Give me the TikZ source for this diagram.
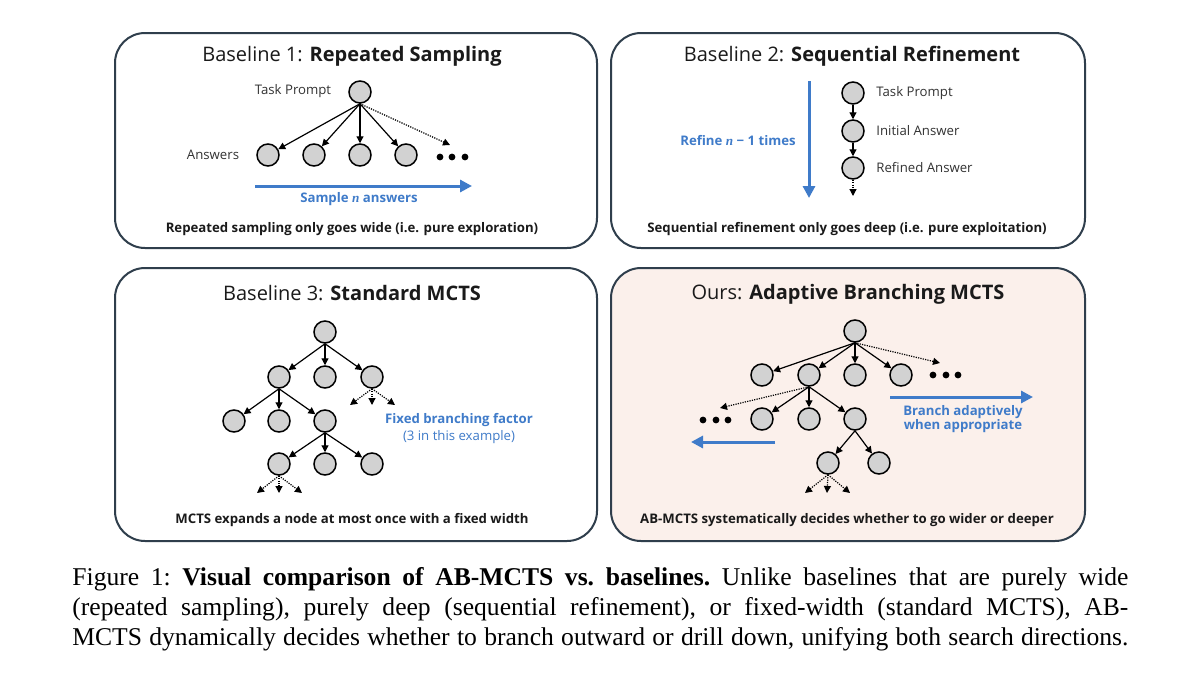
\documentclass[tikz,border=0pt]{standalone}
\usepackage{fontspec}
\setmainfont{Liberation Serif}
\newfontfamily\gf{Open Sans}
\newfontfamily\nf{Liberation Serif}
\usetikzlibrary{arrows.meta}
\definecolor{boxc}{HTML}{2F3E4C}
\definecolor{blueC}{HTML}{3F7BC9}
\definecolor{nodeg}{HTML}{D2D2D2}
\definecolor{pinkbg}{HTML}{FBF0EB}
\definecolor{txt}{HTML}{1A1A1A}
\definecolor{lblc}{HTML}{333333}
\newcommand{\nn}[1]{{\nf\bfseries\itshape #1}}
\tikzset{
  panel/.style={draw=boxc, line width=1pt, rounded corners=15pt},
  nd/.style={circle, draw=black, fill=nodeg, line width=0.75pt, minimum size=11pt, inner sep=0pt},
  dotn/.style={circle, fill=black, minimum size=3.4pt, inner sep=0pt},
  ar/.style={-{Triangle[length=3.5pt,width=3.5pt]}, line width=0.6pt, draw=black},
  dar/.style={ar, dash pattern=on 0.6pt off 0.6pt},
  barrow/.style={-{Triangle[length=6pt,width=6pt]}, line width=1.5pt, draw=blueC},
  ttl/.style={font=\gf\fontsize{10}{12}\selectfont, text=txt, inner sep=0pt},
  lbl/.style={font=\gf\fontsize{6.6}{8}\selectfont, text=lblc, inner sep=0pt},
  bot/.style={font=\gf\bfseries\fontsize{6.6}{8}\selectfont, text=txt, inner sep=0pt},
  blab/.style={font=\gf\bfseries\fontsize{6.6}{8}\selectfont, text=blueC, inner sep=0pt, align=center},
  blabr/.style={font=\gf\fontsize{6.6}{8}\selectfont, text=blueC, inner sep=0pt},
  capl/.style={font=\fontsize{12.8}{15}\selectfont\frenchspacing, text=black, inner sep=0pt, anchor=base west}
}
\begin{document}
\begin{tikzpicture}[x=0.5pt,y=-0.5pt]
\useasboundingbox (0,0) rectangle (1200,686);
\fill[white] (0,0) rectangle (1200,686);

% ---------- Panel 1 ----------
\draw[panel] (115,33) rectangle (597,248);
\node[ttl] (t1) at (352,56) {Baseline 1: \textbf{Repeated Sampling}};
\node[nd] (r1) at (360,92) {};
\node[nd] (a1) at (268,155) {};
\node[nd] (a2) at (314,155) {};
\node[nd] (a3) at (360,155) {};
\node[nd] (a4) at (406,155) {};
\node[lbl] (tp1) at (293,91) {Task Prompt};
\node[lbl] (ans1) at (213,155) {Answers};
\node[dotn] (d11) at (440,157) {};
\node[dotn] (d12) at (452,157) {};
\node[dotn] (d13) at (465,157) {};
\coordinate (e1) at (450,145);
\foreach \c in {a1,a2,a3,a4} \draw[ar] (r1.south) -- (\c);
\draw[dar] (r1.south) -- (e1);
\coordinate (b1s) at (255,186);
\coordinate (b1e) at (472,186);
\draw[barrow] (b1s) -- (b1e);
\node[blab] (s1) at (359,199) {Sample \nn{n} answers};
\node[bot] (bt1) at (352,229) {Repeated sampling only goes wide (i.e. pure exploration)};

% ---------- Panel 2 ----------
\draw[panel] (611,33) rectangle (1085,248);
\node[ttl] (t2) at (852,56) {Baseline 2: \textbf{Sequential Refinement}};
\node[nd] (c1) at (853,93) {};
\node[nd] (c2) at (853,131) {};
\node[nd] (c3) at (853,168) {};
\node[lbl, anchor=west] (l21) at (876,93) {Task Prompt};
\node[lbl, anchor=west] (l22) at (876,131) {Initial Answer};
\node[lbl, anchor=west] (l23) at (876,168) {Refined Answer};
\draw[ar] (c1) -- (c2);
\draw[ar] (c2) -- (c3);
\coordinate (e2) at (853,196);
\draw[dar] (c3) -- (e2);
\coordinate (b2s) at (809,81);
\coordinate (b2e) at (809,198);
\draw[barrow] (b2s) -- (b2e);
\node[blab] (s2) at (738,141) {Refine \nn{n} − 1 times};
\node[bot] (bt2) at (847,229) {Sequential refinement only goes deep (i.e. pure exploitation)};

% ---------- Panel 3 ----------
\draw[panel] (115,268) rectangle (597,541);
\node[ttl] (t3) at (352,293) {Baseline 3: \textbf{Standard MCTS}};
\node[nd] (m0) at (325,332) {};
\node[nd] (m1) at (279,377) {};
\node[nd] (m2) at (325,377) {};
\node[nd] (m3) at (372,377) {};
\node[nd] (m11) at (234,421) {};
\node[nd] (m12) at (279,421) {};
\node[nd] (m13) at (325,421) {};
\node[nd] (m131) at (279,464) {};
\node[nd] (m132) at (325,464) {};
\node[nd] (m133) at (372,464) {};
\foreach \c in {m1,m2,m3} \draw[ar] (m0.south) -- (\c);
\foreach \c in {m11,m12,m13} \draw[ar] (m1.south) -- (\c);
\foreach \c in {m131,m132,m133} \draw[ar] (m13.south) -- (\c);
\coordinate (f1) at (350,405);
\coordinate (f2) at (372,405);
\coordinate (f3) at (395,405);
\foreach \c in {f1,f2,f3} \draw[dar] (m3.south) -- (\c);
\coordinate (g1) at (257,493);
\coordinate (g2) at (279,493);
\coordinate (g3) at (302,493);
\foreach \c in {g1,g2,g3} \draw[dar] (m131.south) -- (\c);
\node[blab] (s3) at (459,420) {Fixed branching factor};
\node[blabr] (s3b) at (459,437) {(3 in this example)};
\node[bot] (bt3) at (352,520) {MCTS expands a node at most once with a fixed width};

% ---------- Panel 4 ----------
\draw[panel, fill=pinkbg] (611,268) rectangle (1085,541);
\node[ttl] (t4) at (848,294) {Ours: \textbf{Adaptive Branching MCTS}};
\node[nd] (n0) at (855,331) {};
\node[nd] (n1) at (762,375) {};
\node[nd] (n2) at (809,375) {};
\node[nd] (n3) at (855,375) {};
\node[nd] (n4) at (901,375) {};
\node[dotn] (d41) at (933,375) {};
\node[dotn] (d42) at (946,375) {};
\node[dotn] (d43) at (958,375) {};
\coordinate (h0) at (940,363);
\foreach \c in {n1,n2,n3,n4} \draw[ar] (n0.south) -- (\c);
\draw[dar] (n0.south) -- (h0);
\node[nd] (n21) at (762,419) {};
\node[nd] (n22) at (809,419) {};
\node[nd] (n23) at (855,419) {};
\node[dotn] (d44) at (703,420) {};
\node[dotn] (d45) at (716,420) {};
\node[dotn] (d46) at (728,420) {};
\coordinate (h1) at (720,408);
\foreach \c in {n21,n22,n23} \draw[ar] (n2.south) -- (\c);
\draw[dar] (n2.south) -- (h1);
\node[nd] (n231) at (828,463) {};
\node[nd] (n232) at (879,463) {};
\foreach \c in {n231,n232} \draw[ar] (n23.south) -- (\c);
\coordinate (k1) at (805,493);
\coordinate (k2) at (827,493);
\coordinate (k3) at (850,493);
\foreach \c in {k1,k2,k3} \draw[dar] (n231.south) -- (\c);
\coordinate (b4s) at (890,397);
\coordinate (b4e) at (1033,397);
\draw[barrow] (b4s) -- (b4e);
\coordinate (b5s) at (775,442);
\coordinate (b5e) at (691,442);
\draw[barrow] (b5s) -- (b5e);
\node[blab] (s4) at (963,419) {Branch adaptively\\[-0.6pt]when appropriate};
\node[bot] (bt4) at (847,520) {AB-MCTS systematically decides whether to go wider or deeper};

% ---------- Caption ----------
\node[capl] (cap1) at (72,585) {\hbox to 528pt{Figure 1: \textbf{Visual comparison of AB-MCTS vs. baselines.} Unlike baselines that are purely wide}};
\node[capl] (cap2) at (72,615) {\hbox to 528pt{(repeated sampling), purely deep (sequential refinement), or fixed-width (standard MCTS), AB-}};
\node[capl] (cap3) at (72,645) {\hbox to 528pt{MCTS dynamically decides whether to branch outward or drill down, unifying both search directions.}};
\end{tikzpicture}
\end{document}
